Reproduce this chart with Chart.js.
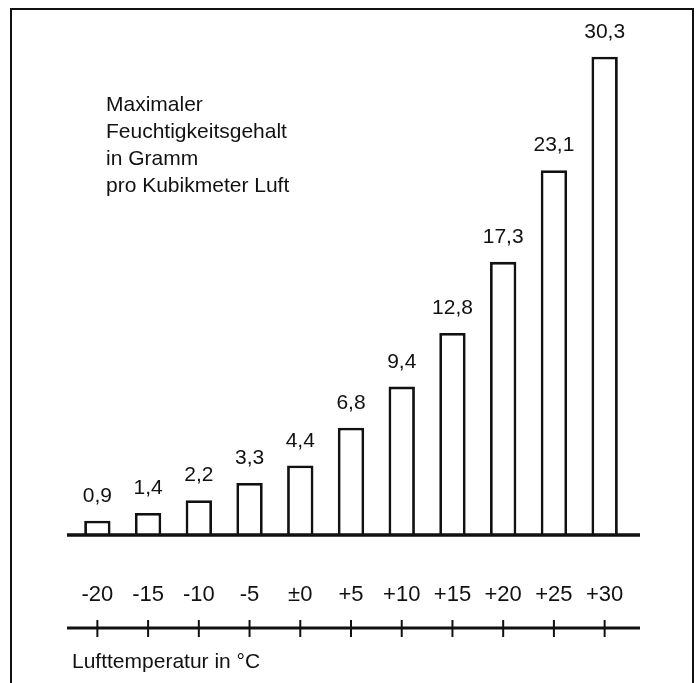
<!DOCTYPE html>
<html>
<head>
<meta charset="utf-8">
<script src="https://cdn.jsdelivr.net/npm/chart.js@4.4.0/dist/chart.umd.min.js"></script>
<style>
  html, body { margin: 0; padding: 0; background: #fff; }
  #wrap { width: 698px; height: 683px; }
</style>
</head>
<body>
<div id="wrap"><canvas id="chart" width="698" height="683"></canvas></div>
<script>
// Lufttemperatur (°C) und max. Feuchtigkeit (g/m3)
const temps = ['-20', '-15', '-10', '-5', '±0', '+5', '+10', '+15', '+20', '+25', '+30'];
const grams = [0.9, 1.4, 2.2, 3.3, 4.4, 6.8, 9.4, 12.8, 17.3, 23.1, 30.3];
const noteLines = ['Maximaler', 'Feuchtigkeitsgehalt', 'in Gramm', 'pro Kubikmeter Luft'];
const axisTitle = 'Lufttemperatur in °C';

const ink = '#111';
const fontFam = '"Liberation Sans", Arial, Helvetica, sans-serif';

// frame, baseline, lower axis with ticks, value labels, note text
const extras = {
    id: 'extras',
    beforeDraw(chart) {
        const ctx = chart.ctx;
        ctx.save();
        ctx.strokeStyle = ink;
        ctx.lineWidth = 2;
        ctx.strokeRect(11, 9, 682, 700);
        ctx.restore();
    },
    afterDatasetsDraw(chart) {
        const ctx = chart.ctx;
        const area = chart.chartArea;
        const x = chart.scales.x;
        ctx.save();
        ctx.strokeStyle = ink;
        // baseline
        ctx.lineWidth = 3.5;
        ctx.beginPath();
        ctx.moveTo(area.left - 5, area.bottom);
        ctx.lineTo(area.right + 10, area.bottom);
        ctx.stroke();
        // second axis line
        const yAx = area.bottom + 93;
        ctx.lineWidth = 3;
        ctx.beginPath();
        ctx.moveTo(area.left - 5, yAx);
        ctx.lineTo(area.right + 10, yAx);
        ctx.stroke();
        ctx.lineWidth = 2;
        temps.forEach((t, i) => {
            const px = x.getPixelForValue(i);
            ctx.beginPath();
            ctx.moveTo(px, yAx - 8);
            ctx.lineTo(px, yAx + 9);
            ctx.stroke();
        });
        // value labels
        ctx.fillStyle = ink;
        ctx.font = '21px ' + fontFam;
        ctx.textAlign = 'center';
        ctx.textBaseline = 'alphabetic';
        chart.getDatasetMeta(0).data.forEach((bar, i) => {
            ctx.fillText(grams[i].toFixed(1).replace('.', ','), bar.x, bar.y - 19);
        });
        // note
        ctx.textAlign = 'left';
        noteLines.forEach((line, i) => {
            ctx.fillText(line, 106, 111 + i * 27);
        });
        ctx.restore();
    }
};

const ctx = document.getElementById('chart').getContext('2d');
new Chart(ctx, {
    type: 'bar',
    data: {
        labels: temps,
        datasets: [{
            data: grams,
            backgroundColor: '#fff',
            borderColor: ink,
            borderWidth: 2.8,
            borderSkipped: 'bottom',
            barPercentage: 0.52,
            categoryPercentage: 1.0
        }]
    },
    options: {
        responsive: false,
        animation: false,
        layout: { padding: { left: 72, right: 68, top: 14, bottom: 0 } },
        plugins: { legend: { display: false }, tooltip: { enabled: false } },
        scales: {
            y: { display: false, min: 0, max: 33 },
            x: {
                grid: { display: false, drawTicks: false },
                border: { display: false },
                ticks: {
                    color: ink,
                    padding: 47,
                    font: { family: fontFam, size: 22 }
                },
                title: {
                    display: true,
                    text: axisTitle,
                    align: 'start',
                    color: ink,
                    padding: { top: 0, bottom: 8 },
                    font: { family: fontFam, size: 21 }
                },
                afterFit(scale) { scale.height = 148; }
            }
        }
    },
    plugins: [extras]
});
</script>
</body>
</html>
